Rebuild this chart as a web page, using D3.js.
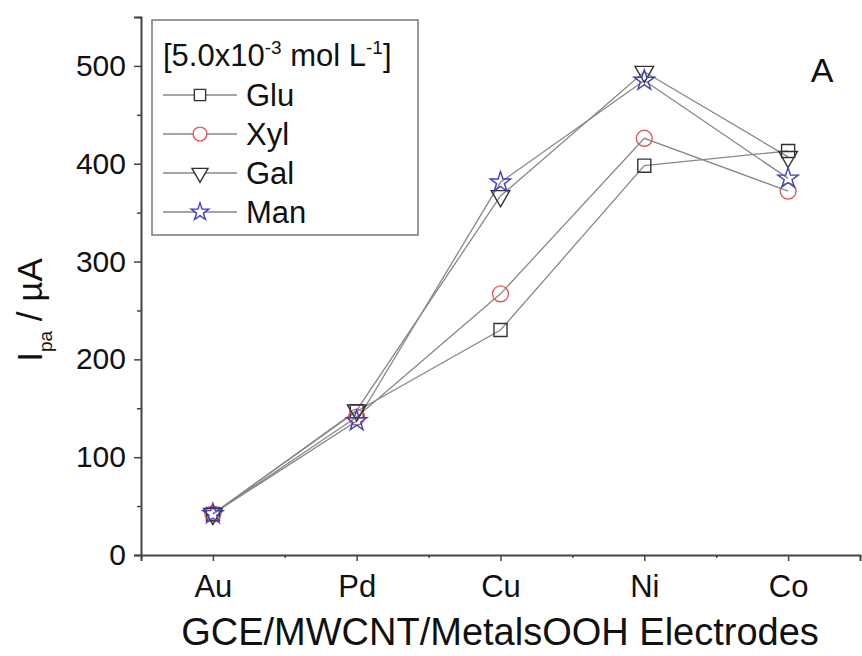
<!DOCTYPE html>
<html>
<head>
<meta charset="utf-8">
<script src="https://cdn.jsdelivr.net/npm/d3@7"></script>
<style>
  body { margin: 0; background: #fff; }
  svg { font-family: "Liberation Sans", Arial, sans-serif; }
</style>
</head>
<body>
<div id="chart"></div>
<script>
const categories = ["Au", "Pd", "Cu", "Ni", "Co"];
const glu = [42, 147, 230, 398, 413];
const xyl = [42, 141, 267, 426, 372];
const gal = [42, 148, 367, 494, 407];
const man = [42, 137, 381, 485, 385];
const yTicks = [0, 100, 200, 300, 400, 500];

const series = [
  {name: "Glu", values: glu, symbol: d3.symbolSquare, color: "#333", size: 170, rot: 0},
  {name: "Xyl", values: xyl, symbol: d3.symbolCircle, color: "#e05a5a", size: 200, rot: 0},
  {name: "Gal", values: gal, symbol: d3.symbolTriangle, color: "#333", size: 150, rot: 180},
  {name: "Man", values: man, symbol: d3.symbolStar, color: "#4040c0", size: 130, rot: 0}
];

const W = 862, H = 656;
const margin = {top: 17, right: 2, bottom: 101, left: 141};

const x = d3.scaleLinear().domain([-0.5, 4.5]).range([margin.left, W - margin.right]);
const y = d3.scaleLinear().domain([0, 550]).range([H - margin.bottom, margin.top]);

const svg = d3.select("#chart").append("svg")
  .attr("width", W).attr("height", H);

// axes
const xAxis = svg.append("g")
  .attr("transform", `translate(0, ${y(0)})`)
  .call(d3.axisBottom(x).tickValues(d3.range(categories.length))
    .tickFormat(i => categories[i]).tickSize(6).tickPadding(14));
svg.append("g")
  .attr("transform", `translate(0, ${y(0)})`)
  .call(d3.axisBottom(x).tickValues([-0.5, 0.5, 1.5, 2.5, 3.5, 4.5]).tickFormat("").tickSize(3))
  .call(g => g.select(".domain").remove());

const yAxis = svg.append("g")
  .attr("transform", `translate(${x(-0.5)}, 0)`)
  .call(d3.axisLeft(y).tickValues(yTicks).tickSize(7).tickPadding(8));
svg.append("g")
  .attr("transform", `translate(${x(-0.5)}, 0)`)
  .call(d3.axisLeft(y).tickValues([50, 150, 250, 350, 450, 550]).tickFormat("").tickSize(4))
  .call(g => g.select(".domain").remove());

svg.selectAll(".domain").attr("stroke", "#444").attr("stroke-width", 2);
svg.selectAll(".tick line").attr("stroke", "#444").attr("stroke-width", 1.5);
xAxis.selectAll("text").attr("font-size", 31).attr("fill", "#111");
yAxis.selectAll("text").attr("font-size", 30).attr("fill", "#111");

// axis titles
svg.append("text")
  .attr("x", 500).attr("y", 645)
  .attr("text-anchor", "middle")
  .attr("font-size", 38).attr("fill", "#111")
  .text("GCE/MWCNT/MetalsOOH Electrodes");

const yl = svg.append("text")
  .attr("transform", "translate(42, 310) rotate(-90)")
  .attr("text-anchor", "middle")
  .attr("font-size", 35).attr("fill", "#111");
yl.append("tspan").text("I");
yl.append("tspan").attr("font-size", 19).attr("dy", 10).text("pa");
yl.append("tspan").attr("dy", -10).text(" / µA");

svg.append("text")
  .attr("x", 822).attr("y", 82)
  .attr("text-anchor", "middle")
  .attr("font-size", 34).attr("fill", "#111")
  .text("A");

// lines & markers
const line = d3.line()
  .x((d, i) => x(i))
  .y(d => y(d));

series.forEach(s => {
  svg.append("path")
    .datum(s.values)
    .attr("fill", "none")
    .attr("stroke", "#888")
    .attr("stroke-width", 1.3)
    .attr("d", line);
});

series.forEach(s => {
  svg.append("g").selectAll("path")
    .data(s.values)
    .join("path")
    .attr("transform", (d, i) => `translate(${x(i)}, ${y(d)}) rotate(${s.rot})`)
    .attr("d", d3.symbol(s.symbol, s.size))
    .attr("fill", "none")
    .attr("stroke", s.color)
    .attr("stroke-width", 1.4);
});

// legend
const lg = svg.append("g");
lg.append("rect")
  .attr("x", 152).attr("y", 20)
  .attr("width", 266).attr("height", 215)
  .attr("fill", "#fff").attr("stroke", "#777").attr("stroke-width", 1.5);

const title = lg.append("text")
  .attr("x", 163).attr("y", 66)
  .attr("font-size", 31).attr("fill", "#111");
title.append("tspan").text("[5.0x10");
title.append("tspan").attr("font-size", 19).attr("dy", -12).text("-3");
title.append("tspan").attr("dy", 12).text(" mol L");
title.append("tspan").attr("font-size", 19).attr("dy", -12).text("-1");
title.append("tspan").attr("dy", 12).text("]");

series.forEach((s, i) => {
  const cy = 95 + i * 39;
  lg.append("line")
    .attr("x1", 163).attr("x2", 237)
    .attr("y1", cy).attr("y2", cy)
    .attr("stroke", "#888").attr("stroke-width", 1.3);
  lg.append("path")
    .attr("transform", `translate(200, ${cy}) rotate(${s.rot})`)
    .attr("d", d3.symbol(s.symbol, s.size * 0.75))
    .attr("fill", "#fff")
    .attr("stroke", s.color)
    .attr("stroke-width", 1.4);
  lg.append("text")
    .attr("x", 246).attr("y", cy + 11)
    .attr("font-size", 31).attr("fill", "#111")
    .text(s.name);
});
</script>
</body>
</html>
